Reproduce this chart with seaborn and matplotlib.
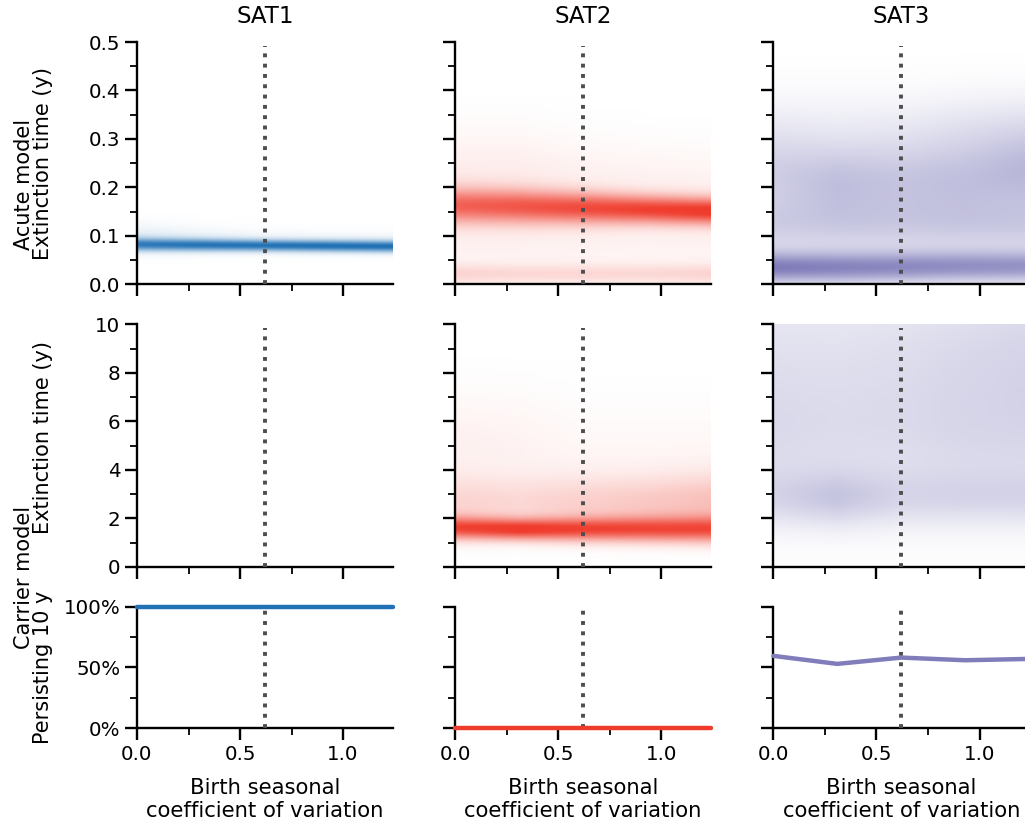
import numpy as np
import matplotlib
matplotlib.use("Agg")
import matplotlib.pyplot as plt
import seaborn as sns
from matplotlib.colors import LinearSegmentedColormap
from matplotlib.ticker import MultipleLocator, PercentFormatter, FormatStrFormatter

# ---------------- data ----------------
serotypes = ["SAT1", "SAT2", "SAT3"]
sat_colors = ["#2171b5", "#ef3b2c", "#807dba"]
birth_cv = [0.0, 0.31, 0.62, 0.93, 1.24]
baseline_cv = 0.62

# fraction of carrier-model runs persisting 10 y
persist_sat1 = [1.0, 1.0, 1.0, 1.0, 1.0]
persist_sat2 = [0.0, 0.0, 0.0, 0.0, 0.0]
persist_sat3 = [0.595, 0.529, 0.581, 0.559, 0.570]

# extinction-time density modes:
# for each birth CV: mode location (y), spread (y), peak shade (0-1)
# Acute model
acute_sat1_core_t = [0.081, 0.080, 0.079, 0.078, 0.077]
acute_sat1_core_sd = [0.009, 0.0085, 0.008, 0.008, 0.008]
acute_sat1_core_h = [0.85, 0.9, 0.92, 0.95, 0.95]
acute_sat1_halo_t = [0.095, 0.09, 0.086, 0.085, 0.085]
acute_sat1_halo_sd = [0.02, 0.018, 0.016, 0.015, 0.015]
acute_sat1_halo_h = [0.12, 0.1, 0.08, 0.08, 0.08]

acute_sat2_main_t = [0.161, 0.159, 0.156, 0.153, 0.150]
acute_sat2_main_sd = [0.025, 0.024, 0.022, 0.020, 0.019]
acute_sat2_main_h = [0.72, 0.78, 0.85, 0.92, 1.0]
acute_sat2_halo_t = [0.21, 0.21, 0.2, 0.2, 0.19]
acute_sat2_halo_sd = [0.07, 0.07, 0.065, 0.06, 0.06]
acute_sat2_halo_h = [0.1, 0.1, 0.08, 0.07, 0.07]
acute_sat2_gap_t = [0.08, 0.08, 0.08, 0.08, 0.08]
acute_sat2_gap_sd = [0.04, 0.04, 0.04, 0.04, 0.04]
acute_sat2_gap_h = [0.05, 0.05, 0.05, 0.05, 0.05]
acute_sat2_low_t = [0.02, 0.02, 0.02, 0.02, 0.02]
acute_sat2_low_sd = [0.015, 0.015, 0.015, 0.015, 0.015]
acute_sat2_low_h = [0.2, 0.18, 0.18, 0.18, 0.2]

acute_sat3_low_t = [0.033, 0.033, 0.034, 0.035, 0.035]
acute_sat3_low_sd = [0.022, 0.022, 0.022, 0.022, 0.022]
acute_sat3_low_h = [0.95, 0.9, 0.85, 0.8, 0.77]
acute_sat3_mid_t = [0.12, 0.12, 0.12, 0.12, 0.12]
acute_sat3_mid_sd = [0.045, 0.045, 0.045, 0.045, 0.045]
acute_sat3_mid_h = [0.35, 0.35, 0.35, 0.36, 0.37]
acute_sat3_mode_t = [0.22, 0.21, 0.21, 0.21, 0.22]
acute_sat3_mode_sd = [0.05, 0.05, 0.05, 0.05, 0.05]
acute_sat3_mode_h = [0.28, 0.4, 0.35, 0.37, 0.4]
acute_sat3_tail_t = [0.3, 0.3, 0.3, 0.3, 0.3]
acute_sat3_tail_sd = [0.06, 0.06, 0.06, 0.06, 0.06]
acute_sat3_tail_h = [0.17, 0.15, 0.17, 0.24, 0.29]

# Carrier model (SAT1: no extinctions)
carrier_sat2_main_t = [1.6, 1.55, 1.55, 1.55, 1.55]
carrier_sat2_main_sd = [0.32, 0.3, 0.33, 0.35, 0.37]
carrier_sat2_main_h = [0.88, 1.0, 0.88, 0.84, 0.84]
carrier_sat2_shoulder_t = [2.6, 2.6, 2.6, 2.6, 2.7]
carrier_sat2_shoulder_sd = [0.8, 0.8, 0.8, 0.8, 0.8]
carrier_sat2_shoulder_h = [0.2, 0.18, 0.22, 0.26, 0.3]
carrier_sat2_tail_t = [5.0, 5.0, 4.5, 4.5, 4.5]
carrier_sat2_tail_sd = [1.5, 1.5, 1.5, 1.5, 1.5]
carrier_sat2_tail_h = [0.07, 0.06, 0.04, 0.04, 0.04]

carrier_sat3_low_t = [2.8, 2.8, 2.8, 2.8, 2.8]
carrier_sat3_low_sd = [0.8, 0.8, 0.8, 0.8, 0.8]
carrier_sat3_low_h = [0.2, 0.33, 0.2, 0.2, 0.2]
carrier_sat3_mid_t = [5.0, 5.0, 5.0, 5.0, 5.0]
carrier_sat3_mid_sd = [2.0, 2.0, 2.0, 2.0, 2.0]
carrier_sat3_mid_h = [0.22, 0.2, 0.2, 0.22, 0.22]
carrier_sat3_high_t = [9.0, 9.0, 9.0, 9.0, 9.0]
carrier_sat3_high_sd = [2.5, 2.5, 2.5, 2.5, 2.5]
carrier_sat3_high_h = [0.2, 0.2, 0.22, 0.26, 0.3]

acute_modes = [
    [(acute_sat1_core_t, acute_sat1_core_sd, acute_sat1_core_h),
     (acute_sat1_halo_t, acute_sat1_halo_sd, acute_sat1_halo_h)],
    [(acute_sat2_main_t, acute_sat2_main_sd, acute_sat2_main_h),
     (acute_sat2_halo_t, acute_sat2_halo_sd, acute_sat2_halo_h),
     (acute_sat2_gap_t, acute_sat2_gap_sd, acute_sat2_gap_h),
     (acute_sat2_low_t, acute_sat2_low_sd, acute_sat2_low_h)],
    [(acute_sat3_low_t, acute_sat3_low_sd, acute_sat3_low_h),
     (acute_sat3_mid_t, acute_sat3_mid_sd, acute_sat3_mid_h),
     (acute_sat3_mode_t, acute_sat3_mode_sd, acute_sat3_mode_h),
     (acute_sat3_tail_t, acute_sat3_tail_sd, acute_sat3_tail_h)],
]
carrier_modes = [
    [],
    [(carrier_sat2_main_t, carrier_sat2_main_sd, carrier_sat2_main_h),
     (carrier_sat2_shoulder_t, carrier_sat2_shoulder_sd, carrier_sat2_shoulder_h),
     (carrier_sat2_tail_t, carrier_sat2_tail_sd, carrier_sat2_tail_h)],
    [(carrier_sat3_low_t, carrier_sat3_low_sd, carrier_sat3_low_h),
     (carrier_sat3_mid_t, carrier_sat3_mid_sd, carrier_sat3_mid_h),
     (carrier_sat3_high_t, carrier_sat3_high_sd, carrier_sat3_high_h)],
]
persist = [persist_sat1, persist_sat2, persist_sat3]

# ---------------- style ----------------
sns.set_theme(style="ticks")
plt.rcParams.update({
    "font.family": ["DejaVu Sans"],
    "axes.linewidth": 1.7,
    "xtick.major.width": 1.7, "ytick.major.width": 1.7,
    "xtick.minor.width": 1.3, "ytick.minor.width": 1.3,
    "xtick.major.size": 8.5, "ytick.major.size": 8.5,
    "xtick.minor.size": 5, "ytick.minor.size": 5,
    "xtick.labelsize": 14.3, "ytick.labelsize": 14.3,
    "axes.labelsize": 15.2, "axes.titlesize": 16.5,
    "axes.edgecolor": "black", "xtick.color": "black", "ytick.color": "black",
    "text.color": "black", "axes.labelcolor": "black",
})

W, H = 1025, 823
fig = plt.figure(figsize=(W / 100, H / 100), dpi=100)
gs = fig.add_gridspec(3, 3, left=137 / W, right=1029 / W, top=1 - 42 / H,
                      bottom=1 - 728 / H, wspace=0.245, hspace=0.198,
                      height_ratios=[2, 2, 1])
axes = np.empty((3, 3), dtype=object)
for r in range(3):
    for c in range(3):
        axes[r, c] = fig.add_subplot(gs[r, c],
                                     sharex=axes[0, 0] if (r or c) else None,
                                     sharey=axes[r, 0] if c else None)

ylims = [(0, 0.5), (0, 10)]
dcv = birth_cv[1] - birth_cv[0]
extent_x = [birth_cv[0] - dcv / 2, birth_cv[-1] + dcv / 2]


def density_image(modes, ygrid):
    Z = np.zeros((len(ygrid), len(birth_cv)))
    for t, sd, h in modes:
        for j in range(len(birth_cv)):
            Z[:, j] += h[j] * np.exp(-0.5 * ((ygrid - t[j]) / sd[j]) ** 2)
    return np.clip(Z, 0, 1)


for c in range(3):
    cmap = LinearSegmentedColormap.from_list(f"w{c}", ["#ffffff", sat_colors[c]])
    for r, modes in enumerate([acute_modes[c], carrier_modes[c]]):
        ax = axes[r, c]
        y0, y1 = ylims[r]
        if modes:
            yg = np.linspace(y0, y1, 600)
            Z = density_image(modes, yg)
            ax.imshow(Z, origin="lower", aspect="auto", cmap=cmap, vmin=0, vmax=1,
                      extent=[extent_x[0], extent_x[1], y0, y1],
                      interpolation="bilinear", zorder=1)
        ax.set_ylim(y0, y1)
    ax = axes[2, c]
    sns.lineplot(x=birth_cv, y=persist[c], ax=ax, color=sat_colors[c], lw=3.2,
                 clip_on=False, zorder=4)
    axes[0, c].set_title(serotypes[c], pad=14)

for ax in axes.flat:
    ax.axvline(baseline_cv, ymax=0.985, color="0.3", ls=":", lw=2.8, zorder=3)
    ax.set_xlim(0, 1.24)
    ax.xaxis.set_major_locator(MultipleLocator(0.5))
    ax.xaxis.set_minor_locator(MultipleLocator(0.25))
    sns.despine(ax=ax)

for c in range(3):
    axes[0, c].yaxis.set_major_locator(MultipleLocator(0.1))
    axes[0, c].yaxis.set_minor_locator(MultipleLocator(0.05))
    axes[1, c].yaxis.set_major_locator(MultipleLocator(2))
    axes[1, c].yaxis.set_minor_locator(MultipleLocator(1))
    axes[2, c].set_ylim(0, 1)
    axes[2, c].yaxis.set_major_locator(MultipleLocator(0.5))
    axes[2, c].yaxis.set_minor_locator(MultipleLocator(0.25))
    axes[2, c].yaxis.set_major_formatter(PercentFormatter(xmax=1, decimals=0))
    axes[2, c].set_xlabel("Birth seasonal\ncoefficient of variation", labelpad=10)
    for r in range(3):
        axes[r, c].set_ylabel("")
        if r < 2:
            axes[r, c].tick_params(labelbottom=False)
        if c > 0:
            axes[r, c].tick_params(labelleft=False)

axes[0, 0].yaxis.set_major_formatter(FormatStrFormatter("%.1f"))


def ftext(x, y, s):
    fig.text(x / W, 1 - y / H, s, rotation=90, ha="center", va="center",
             fontsize=15)


ftext(24, 184, "Acute model")
ftext(43, 163, "Extinction time (y)")
ftext(24, 577, "Carrier model")
ftext(43, 438, "Extinction time (y)")
ftext(43, 667, "Persisting 10 y")

fig.savefig("out.png", dpi=100)
